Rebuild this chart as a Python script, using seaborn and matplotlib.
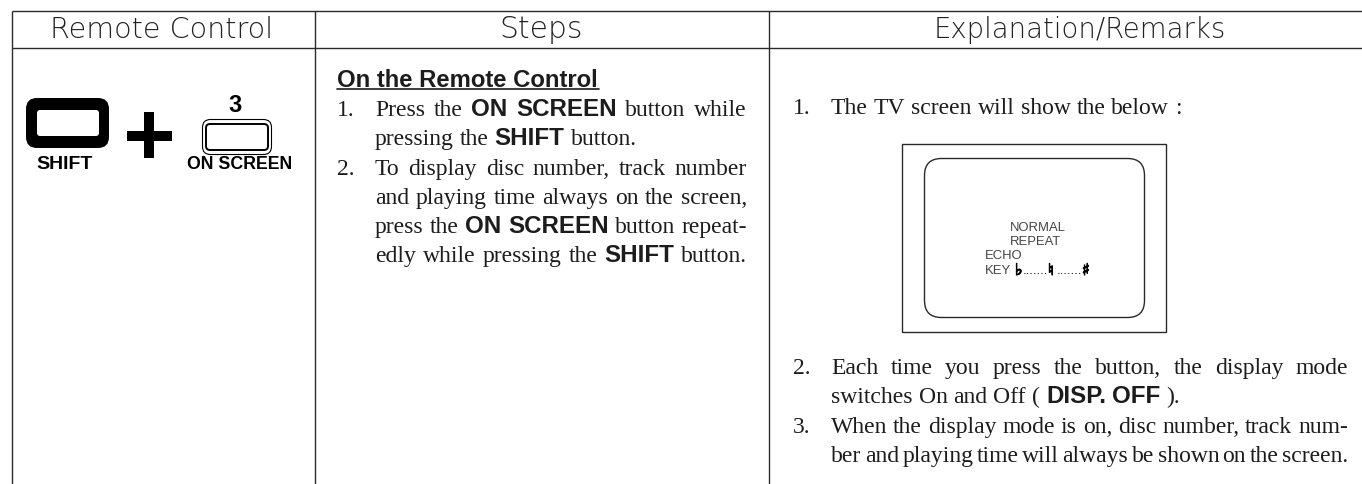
import matplotlib
matplotlib.use("Agg")
import matplotlib.pyplot as plt
import matplotlib.patheffects as pe
from matplotlib.patches import FancyBboxPatch, Rectangle
import seaborn as sns

sns.set_theme(style="white")

W, H = 1362, 484
headers = ["Remote Control", "Steps", "Explanation/Remarks"]
header_x = [162, 541, 1080]
header_size = [20.6, 21.5, 19.8]
column_rules = [12, 315, 769]
row_rules = [10.5, 48]

steps_title = "On the Remote Control"
R, B = "serif", "bold"
steps_lines = [
    ("1.", [(R, "Press the"), (B, "ON SCREEN"), (R, "button while")], True),
    ("", [(R, "pressing the"), (B, "SHIFT"), (R, "button.")], False),
    ("2.", [(R, "To display disc number, track number")], True),
    ("", [(R, "and playing time always on the screen,")], True),
    ("", [(R, "press the"), (B, "ON SCREEN"), (R, "button repeat-")], True),
    ("", [(R, "edly while pressing the"), (B, "SHIFT"), (R, "button.")], True),
]
steps_y = [116, 145, 175, 204, 233, 262]

remarks_lines = [
    ("1.", [(R, "The TV screen will show the below :")], False, 114),
    ("2.", [(R, "Each time you press the button, the display mode")], True, 374),
    ("", [(R, "switches On and Off ("), (B, "DISP. OFF"), (R, ").")], False, 403),
    ("3.", [(R, "When the display mode is on, disc number, track num-")], True, 433),
    ("", [(R, "ber and playing time will always be shown on the screen.")], True, 462),
]
tv_lines = [("NORMAL", 1010, 231), ("REPEAT", 1010, 245), ("ECHO", 985, 259), ("KEY", 985, 274)]

fig = plt.figure(figsize=(W / 100, H / 100), dpi=100, facecolor="white")
ax = fig.add_axes([0, 0, 1, 1])
ax.set_xlim(0, W)
ax.set_ylim(H, 0)
ax.axis("off")
rend = fig.canvas.get_renderer()
INK = "#1c1c1c"
LINE = "#2a2a2a"

for x in column_rules:
    ax.plot([x, x], [row_rules[0], H], color=LINE, lw=1.0, solid_capstyle="butt")
for y in row_rules:
    ax.plot([column_rules[0], W], [y, y], color=LINE, lw=1.0, solid_capstyle="butt")

for s, x, fs in zip(headers, header_x, header_size):
    ax.text(x, 29.5, s, ha="center", va="center", family="DejaVu Sans", fontsize=fs, color="#222222", fontweight="light")


def style(kind):
    if kind == B:
        return dict(family="Liberation Sans", fontweight="bold", fontsize=17.4)
    return dict(family="Liberation Serif", fontsize=17)


def width(s, kind):
    t = ax.text(0, 0, s, **style(kind))
    w = t.get_window_extent(rend).width
    t.remove()
    return w


def draw_line(segs, x0, x1, y, justify):
    """Place words one by one; stretch the gaps when the line is justified."""
    words = [(w, k) for k, s in segs for w in s.split(" ")]
    widths = [width(w, k) for w, k in words]
    gap = (x1 - x0 - sum(widths)) / (len(words) - 1) if justify else 6.0
    x = x0
    for (w, k), wd in zip(words, widths):
        ax.text(x, y, w, va="baseline", ha="left", color=INK, **style(k))
        x += wd + gap


ax.text(337, 87, steps_title, family="Liberation Sans", fontweight="bold", fontsize=17.2, color=INK, va="baseline")
ax.plot([337, 599], [89, 89], color=INK, lw=1.2)
for (num, segs, just), y in zip(steps_lines, steps_y):
    if num:
        ax.text(337, y, num, va="baseline", color=INK, **style(R))
    draw_line(segs, 375, 747, y, just)
for num, segs, just, y in remarks_lines:
    if num:
        ax.text(793, y, num, va="baseline", color=INK, **style(R))
    draw_line(segs, 831, 1348, y, just)

# Remote control icons
ax.add_patch(FancyBboxPatch((26, 98), 83, 50, boxstyle="round,pad=0,rounding_size=11", fc="black", ec="none"))
ax.add_patch(FancyBboxPatch((37, 110), 62, 26, boxstyle="round,pad=0,rounding_size=3", fc="white", ec="none"))
ax.add_patch(Rectangle((127, 131), 45, 10, fc="black", ec="none"))
ax.add_patch(Rectangle((144, 112), 10, 46, fc="black", ec="none"))
ax.add_patch(FancyBboxPatch((202.5, 119.5), 69, 35, boxstyle="round,pad=0,rounding_size=8", fc="white", ec="black", lw=0.8))
ax.add_patch(FancyBboxPatch((206, 124), 62, 26, boxstyle="round,pad=0,rounding_size=4", fc="white", ec="black", lw=1.4))
ax.text(235, 106, "3", ha="center", va="center", family="Liberation Sans", fontweight="bold", fontsize=17, color="black")
ax.text(64.5, 164.5, "SHIFT", ha="center", va="center", family="Liberation Sans", fontweight="bold", fontsize=14, color="black")
ax.text(240, 164.5, "ON SCREEN", ha="center", va="center", family="Liberation Sans", fontweight="bold", fontsize=12.8, color="black")

# TV screen
ax.add_patch(Rectangle((902, 143.5), 264, 188, fc="white", ec=LINE, lw=1.0))
ax.add_patch(FancyBboxPatch((924.5, 158.5), 220, 159, boxstyle="round,pad=0,rounding_size=17", fc="white", ec=LINE, lw=1.0))
for s, x, y in tv_lines:
    ax.text(x, y, s, family="Liberation Sans", fontsize=9.4, color="#444444", va="baseline")
bold_fx = [pe.withStroke(linewidth=0.8, foreground="black")]
for sym, x in zip(["\u266d", "\u266e", "\u266f"], [1015, 1048, 1082]):
    ax.text(x, 275, sym, family="DejaVu Sans", fontsize=11.5, fontweight="bold", color="black", va="baseline", path_effects=bold_fx)
ax.text(1023, 274, ".......", family="Liberation Sans", fontsize=9.5, color="black", va="baseline")
ax.text(1057, 274, ".......", family="Liberation Sans", fontsize=9.5, color="black", va="baseline")

fig.savefig("out.png", dpi=100, facecolor="white")
